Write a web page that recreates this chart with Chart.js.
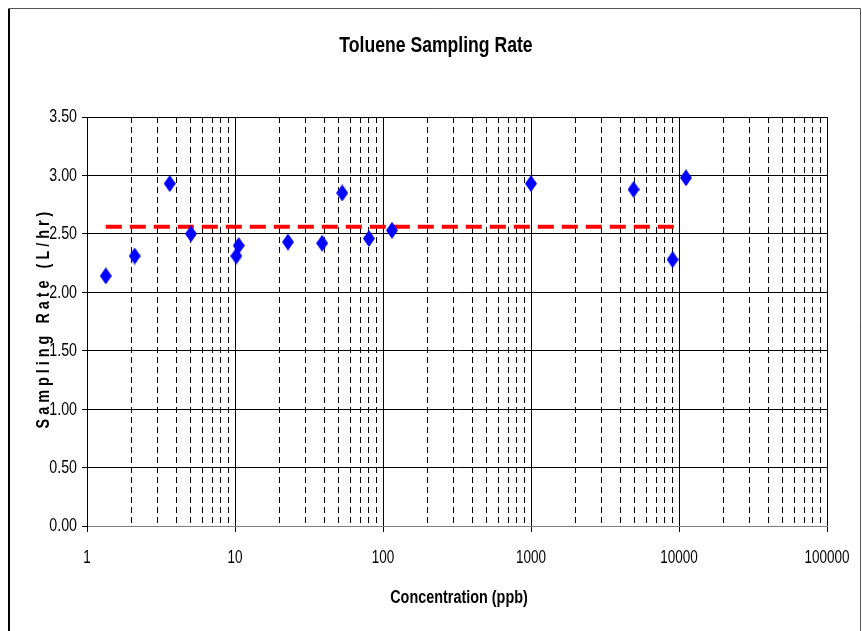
<!DOCTYPE html>
<html>
<head>
<meta charset="utf-8">
<script src="https://cdn.jsdelivr.net/npm/chart.js@4/dist/chart.umd.min.js"></script>
<style>
html,body{margin:0;padding:0;background:#fff;}
#wrap{width:862px;height:631px;position:relative;}
</style>
</head>
<body>
<div id="wrap"><canvas id="c" width="862" height="631"></canvas></div>
<script>
// Data
const concentration = [1.34, 2.10, 3.62, 5.04, 10.2, 10.6, 22.8, 38.8, 53, 80.3, 115, 1000, 4930, 9050, 11150];
const samplingRate  = [2.14, 2.31, 2.93, 2.50, 2.31, 2.40, 2.43, 2.42, 2.85, 2.46, 2.53, 2.93, 2.88, 2.28, 2.98];
const averageRate = 2.56;
const averageRange = [1.34, 10000];
const yTicks = [0, 0.5, 1, 1.5, 2, 2.5, 3, 3.5];
const xDecades = [1, 10, 100, 1000, 10000, 100000];
const titleText = 'Toluene Sampling Rate';
const xTitle = 'Concentration (ppb)';
const yTitle = 'Sampling Rate (L/hr)';

const FONT = '"Liberation Sans", Arial, sans-serif';

// diamond marker
const dia = document.createElement('canvas');
dia.width = 12; dia.height = 17;
(function(){
  const g = dia.getContext('2d');
  g.fillStyle = '#0000FF';
  g.beginPath();
  g.moveTo(6, 0); g.lineTo(12, 8.5); g.lineTo(6, 17); g.lineTo(0, 8.5); g.closePath();
  g.fill();
})();

// log ticks: 1..9 per decade
const xTickValues = [];
for (let d = 0; d < xDecades.length - 1; d++) {
  for (let k = 1; k <= 9; k++) xTickValues.push(xDecades[d] * k);
}
xTickValues.push(xDecades[xDecades.length - 1]);
const isMajor = v => xDecades.includes(v);

// draw condensed ("narrow") text by squeezing horizontally
function narrowText(ctx, text, x, y, font, sx, align, spacing) {
  ctx.save();
  ctx.translate(x, y);
  ctx.scale(sx, 1);
  ctx.font = font;
  ctx.fillStyle = '#000';
  ctx.textAlign = align || 'center';
  ctx.textBaseline = 'middle';
  if (spacing && 'letterSpacing' in ctx) ctx.letterSpacing = spacing + 'px';
  ctx.fillText(text, 0, 0);
  ctx.restore();
}

const framePlugin = {
  id: 'frame',
  beforeDraw(chart) {
    const ctx = chart.ctx;
    ctx.save();
    ctx.fillStyle = '#fff';
    ctx.fillRect(0, 0, chart.width, chart.height);
    ctx.restore();
  },
  afterDraw(chart) {
    const ctx = chart.ctx;
    ctx.save();
    // outer frame
    ctx.strokeStyle = '#000';
    ctx.lineWidth = 2;
    ctx.beginPath();
    ctx.moveTo(9, 640); ctx.lineTo(9, 8.5);
    ctx.stroke();
    ctx.lineWidth = 1;
    ctx.strokeStyle = '#555';
    ctx.beginPath();
    ctx.moveTo(9, 8.5); ctx.lineTo(860.5, 8.5); ctx.lineTo(860.5, 640);
    ctx.stroke();
    ctx.restore();

    // tick labels from the library's scales
    const xs = chart.scales.x, ys = chart.scales.y;
    xs.ticks.forEach(t => {
      if (!isMajor(t.value)) return;
      narrowText(ctx, String(t.value), xs.getPixelForValue(t.value), 558, '18px ' + FONT, 0.75, 'center');
    });
    ys.ticks.forEach(t => {
      narrowText(ctx, Number(t.value).toFixed(2), 77, ys.getPixelForValue(t.value) + 0.5, '18px ' + FONT, 0.79, 'right');
    });

    // titles
    narrowText(ctx, titleText, 436, 46, 'bold 22px ' + FONT, 0.8, 'center');
    narrowText(ctx, xTitle, 459, 598, 'bold 18px ' + FONT, 0.8, 'center');
    ctx.save();
    ctx.translate(44, 318);
    ctx.rotate(-Math.PI / 2);
    narrowText(ctx, yTitle, 0, 0, 'bold 18px ' + FONT, 0.8, 'center', 5);
    ctx.restore();
  }
};

new Chart(document.getElementById('c'), {
  data: {
    datasets: [
      {
        type: 'line',
        label: 'Average',
        data: averageRange.map(x => ({x: x, y: averageRate})),
        borderColor: '#FF0000',
        borderWidth: 4,
        borderDash: [16, 8],
        pointRadius: 0,
        fill: false,
        order: 2
      },
      {
        type: 'scatter',
        label: 'Toluene',
        data: concentration.map((x, i) => ({x: x, y: samplingRate[i]})),
        pointStyle: dia,
        pointRadius: 8,
        order: 1
      }
    ]
  },
  options: {
    responsive: false,
    animation: false,
    devicePixelRatio: 1,
    layout: {padding: {top: 117, right: 35, left: 0, bottom: 0}},
    plugins: {legend: {display: false}, tooltip: {enabled: false}, title: {display: false}},
    scales: {
      x: {
        type: 'logarithmic',
        min: 1, max: 100000,
        afterBuildTicks(scale) {
          scale.ticks = xTickValues.map(v => ({value: v, major: isMajor(v)}));
        },
        afterFit(scale) { scale.height = 105; },
        ticks: {
          display: false,
          autoSkip: false,
          maxRotation: 0,
          callback(v) { return isMajor(v) ? String(v) : ''; }
        },
        grid: {
          color: '#000',
          lineWidth: 1,
          tickLength: 6,
          tickColor: ctx => (ctx.tick && isMajor(ctx.tick.value)) ? '#000' : 'rgba(0,0,0,0)'
        },
        border: {
          display: true,
          color: '#808080',
          width: 1,
          dash: ctx => (ctx.tick && isMajor(ctx.tick.value)) ? [] : [6, 4]
        }
      },
      y: {
        type: 'linear',
        min: 0, max: 3.5,
        afterBuildTicks(scale) {
          scale.ticks = yTicks.map(v => ({value: v}));
        },
        afterFit(scale) { scale.width = 87; },
        ticks: {
          display: false,
          callback(v) { return Number(v).toFixed(2); }
        },
        grid: {color: '#000', lineWidth: 1, tickLength: 5},
        border: {display: true, color: '#000', width: 1}
      }
    }
  },
  plugins: [framePlugin]
});
</script>
</body>
</html>
